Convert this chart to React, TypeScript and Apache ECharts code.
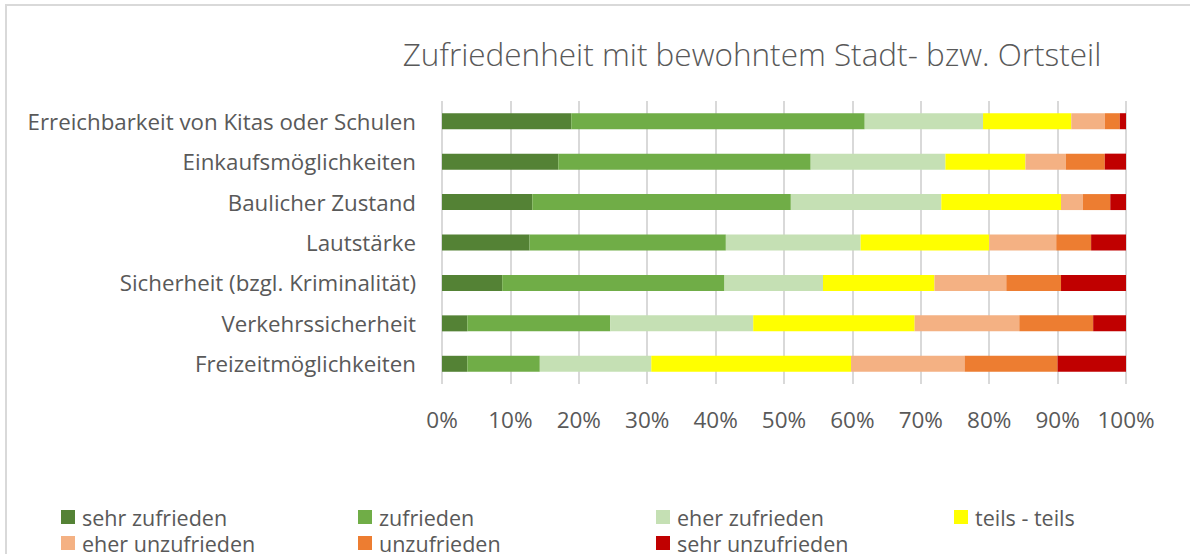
import React, { useEffect, useRef } from "react";
import * as echarts from "echarts";

const categories = [
  "Erreichbarkeit von Kitas oder Schulen",
  "Einkaufsmöglichkeiten",
  "Baulicher Zustand",
  "Lautstärke",
  "Sicherheit (bzgl. Kriminalität)",
  "Verkehrssicherheit",
  "Freizeitmöglichkeiten",
];

const seriesNames = [
  "sehr zufrieden",
  "zufrieden",
  "eher zufrieden",
  "teils - teils",
  "eher unzufrieden",
  "unzufrieden",
  "sehr unzufrieden",
];

const colors = ["#548235", "#70AD47", "#C5E0B4", "#FFFF00", "#F4B183", "#ED7D31", "#C00000"];

const sehrZufrieden = [18.9, 17.0, 13.2, 12.8, 8.8, 3.7, 3.7];
const zufrieden = [42.9, 36.9, 37.8, 28.7, 32.5, 20.9, 10.6];
const eherZufrieden = [17.3, 19.7, 22.0, 19.7, 14.4, 20.9, 16.3];
const teilsTeils = [12.9, 11.7, 17.5, 18.8, 16.3, 23.6, 29.2];
const eherUnzufrieden = [4.9, 5.9, 3.2, 9.8, 10.5, 15.3, 16.6];
const unzufrieden = [2.2, 5.7, 4.0, 5.1, 8.0, 10.8, 13.6];
const sehrUnzufrieden = [0.9, 3.1, 2.3, 5.1, 9.5, 4.8, 10.0];

const values = [sehrZufrieden, zufrieden, eherZufrieden, teilsTeils, eherUnzufrieden, unzufrieden, sehrUnzufrieden];

const title = "Zufriedenheit mit bewohntem Stadt- bzw. Ortsteil";

const FONT = "'Open Sans', 'Noto Sans', sans-serif";
const TEXT = "#595959";

// legend positions (left, top) for each item
const legendLeft = [61, 358, 656, 954, 61, 358, 656];
const legendTop = [506, 506, 506, 506, 532, 532, 532];

export default function App() {
  const ref = useRef<HTMLDivElement>(null);
  useEffect(() => {
    document.body.style.margin = "0";
    const chart = echarts.init(ref.current!, undefined, { renderer: "svg" });
    chart.setOption({
      animation: false,
      backgroundColor: "#ffffff",
      color: colors,
      title: {
        text: title,
        left: 747,
        top: 32,
        textAlign: "center",
        textStyle: { fontFamily: FONT, fontSize: 31.5, fontWeight: 300, color: TEXT },
      },
      graphic: [
        {
          type: "rect",
          shape: { x: 6, y: 5, width: 1200, height: 580 },
          style: { fill: "none", stroke: "#d9d9d9", lineWidth: 2 },
          silent: true,
        },
      ],
      legend: seriesNames.map((n, i) => ({
        data: [n],
        left: legendLeft[i],
        top: legendTop[i],
        icon: "rect",
        itemWidth: 14,
        itemHeight: 14,
        padding: 0,
        selectedMode: false,
        textStyle: { fontFamily: FONT, fontSize: 21.5, lineHeight: 20, color: TEXT, padding: [0, 0, 0, 2] },
      })),
      grid: { left: 442, top: 101, width: 684, height: 283, containLabel: false },
      xAxis: {
        type: "value",
        min: 0,
        max: 100,
        interval: 10,
        axisLine: { show: false },
        axisTick: { show: false },
        splitLine: { show: true, lineStyle: { color: "#d9d9d9", width: 2 } },
        axisLabel: {
          formatter: "{value}%",
          fontFamily: FONT,
          fontSize: 22.5,
          color: TEXT,
          margin: 24,
        },
      },
      yAxis: {
        type: "category",
        data: categories,
        inverse: true,
        axisLine: { show: false },
        axisTick: { show: false },
        axisLabel: { fontFamily: FONT, fontSize: 22.3, color: TEXT, margin: 26 },
      },
      series: seriesNames.map((n, i) => ({
        name: n,
        type: "bar",
        stack: "total",
        barWidth: 16,
        data: values[i],
        itemStyle: { color: colors[i] },
      })),
    });
    return () => chart.dispose();
  }, []);
  return <div ref={ref} style={{ width: 1190, height: 554 }} />;
}
